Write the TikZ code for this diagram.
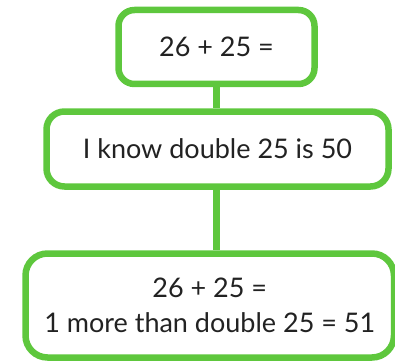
\documentclass[tikz,border=0pt]{standalone}
\usepackage{fontspec}
\setmainfont{Lato}
\definecolor{boxgreen}{RGB}{94,199,61}
\definecolor{txt}{RGB}{34,34,34}
\begin{document}
\begin{tikzpicture}[x=1pt,y=1pt,
  box/.style={draw=boxgreen, line width=6.5pt, rounded corners=#1, fill=white,
    text=txt, align=center, inner sep=0pt, font=\fontsize{27}{35}\selectfont},
  link/.style={draw=boxgreen, line width=7pt}]
\useasboundingbox (0,0) rectangle (395,362);
\clip (0,0) rectangle (395,362);
\coordinate (x0) at (216,0);
\node[box=16pt, minimum width=196pt, minimum height=74pt] (top) at (216.5,315) {26 + 25 =};
\node[box=18pt, minimum width=342pt, minimum height=75pt] (mid) at (217.5,213) {I know double 25 is 50};
\node[box=22pt, minimum width=368.5pt, minimum height=104pt] (bot) at (209.75,56.5) {26 + 25 =\\1 more than double 25 = 51};
\draw[link] (top.south -| x0) -- (mid.north -| x0);
\draw[link] (mid.south -| x0) -- (bot.north -| x0);
\end{tikzpicture}
\end{document}
